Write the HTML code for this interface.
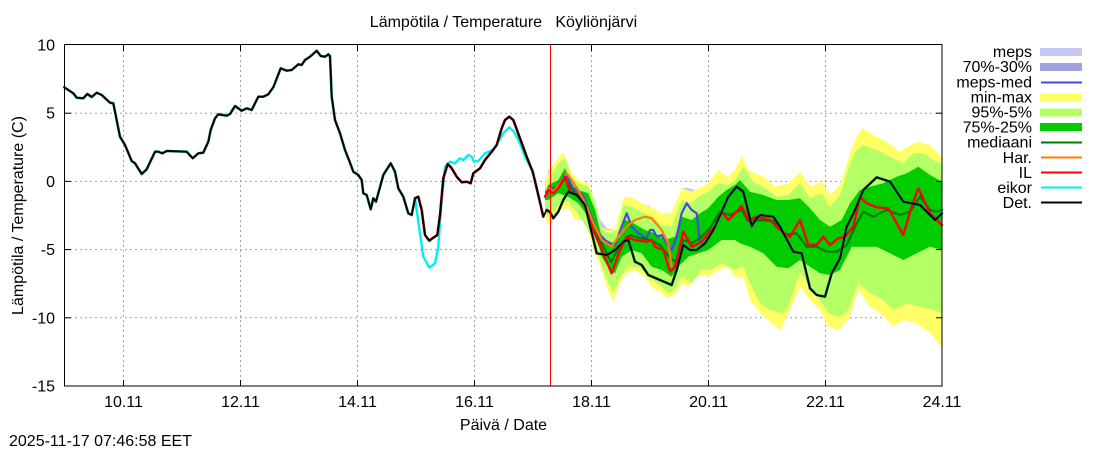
<!DOCTYPE html>
<html><head><meta charset="utf-8"><style>
html,body{margin:0;padding:0;background:#fff;}
svg{display:block;font-family:"Liberation Sans",Arial,sans-serif;}
text{font-size:16px;fill:#000;}
</style></head><body>
<svg width="1100" height="450" viewBox="0 0 1100 450" xmlns="http://www.w3.org/2000/svg">
<rect x="0" y="0" width="1100" height="450" fill="#fff"/>
<g stroke="#a0a0a0" stroke-width="1" stroke-dasharray="2,3" fill="none">
<line x1="65" y1="113.2" x2="942" y2="113.2"/>
<line x1="65" y1="181.4" x2="942" y2="181.4"/>
<line x1="65" y1="249.6" x2="942" y2="249.6"/>
<line x1="65" y1="317.8" x2="942" y2="317.8"/>
<line x1="123.5" y1="45" x2="123.5" y2="386"/>
<line x1="240.5" y1="45" x2="240.5" y2="386"/>
<line x1="357.5" y1="45" x2="357.5" y2="386"/>
<line x1="474.5" y1="45" x2="474.5" y2="386"/>
<line x1="591.5" y1="45" x2="591.5" y2="386"/>
<line x1="708.5" y1="45" x2="708.5" y2="386"/>
<line x1="825.5" y1="45" x2="825.5" y2="386"/>
</g>
<polygon fill="#c8c8f6" points="545,185 548.3,170 555,168 565,171.7 571.7,178.3 578.3,183.3 588.3,196.7 598.3,216.7 606.7,228.3 615,230 623.3,200 631.7,203.3 641.7,203.3 650,206 661.7,223.3 670,223.3 681.7,188.3 688.3,188 695,190 700,216.7 700,240 691.7,220 681.7,213.3 675,243.3 668.3,253.3 662,232 650,230 631.7,230 622,240 611.7,250 601.7,240 591.7,216.7 578.3,196.7 565,185 548.3,190 545,192"/>
<polygon fill="#a0a0dc" points="546.7,187 550,183.7 553.3,186.3 558,182 565,172 568,175 573.3,185.3 581.7,190.3 590,210.3 598.3,230.3 606.7,238.7 615,242 621.7,223.7 626.7,210.3 631.7,223.7 638.3,230.3 646.7,235.3 650,227 653.3,227 656.7,233.7 661.7,232 666.7,240.3 671.7,247 676.7,233.7 681.7,210.3 686.7,200.3 691.7,207 696.7,210.3 700,238.7 700,245 696.7,217 691.7,214 686.7,207 681.7,217 676.7,241 671.7,254 666.7,247 661.7,239 656.7,240.7 653.3,234 650,234 646.7,242 638.3,237 631.7,230.7 626.7,217 621.7,230.7 615,249 606.7,245.7 598.3,237.3 590,217.3 581.7,197.3 573.3,192.3 568,182 565,179 558,189 553.3,193.3 550,190.7 546.7,194"/>
<polygon fill="#ffff66" points="545,190 546.7,176.7 550,170 560,155 563.3,152.7 566.7,160 571.7,173.3 578.3,180 588.3,183.3 593.3,196.7 600,226.7 606.7,230 615,230 623.3,198.3 631.7,196.7 641.7,203.3 650,206.7 661.7,213.3 671.7,213.3 681.7,188.3 691.7,191.7 698.3,188.3 708.3,183.3 718.3,170 728.3,176.7 735,170 741.7,155 748.3,170 763.3,176.7 775,186.7 788.3,183.3 800,171.7 810,186.7 821.7,181.7 830,195 840,185 851.7,148.3 858.3,133.3 863.3,128.3 873.3,135 886.7,141.7 900,151.7 916.7,141.7 930,145 942,156.7 942,346.7 930,333.3 916.7,323.3 903.3,320 893.3,326.7 880,313.3 870,306.7 858.3,290 848.3,320 838.3,330 828.3,326.7 820,310 810,300 800,286.7 788.3,313.3 780,330 770,321.7 760,313.3 750,300 743.3,276.7 735,276.7 728.3,266.7 718.3,270 708.3,276.7 698.3,275 688.3,286.7 681.7,283.3 675,295 666.7,298.3 661.7,293.3 651.7,286.7 645,276.7 635,270 626.7,273.3 620,283.3 613.3,301.7 606.7,286.7 601.7,270 593.3,250 585,220 575,220 568.3,208 560,210 550,226 545,218"/>
<polygon fill="#b4ff66" points="545,195 548.3,180 558.3,163.3 565,158.3 571.7,176.7 578.3,183.3 588.3,186.7 595,201.7 601.7,230 610,233.3 618.3,230 623.3,205 631.7,206.7 641.7,211.7 650,215 661.7,225 671.7,226.7 681.7,200 691.7,203.3 698.3,196.7 708.3,191.7 718.3,183.3 728.3,185 735,180 743.3,166.7 753.3,181.7 763.3,186.7 776.7,196.7 788.3,195 800,183.3 810,198.3 821.7,193.3 830,206.7 840,195 850,163.3 856.7,150 863.3,145 876.7,150 890,156.7 903.3,163.3 913.3,153.3 923.3,153.3 933.3,160 942,163.3 942,313.3 933.3,310 920,306.7 906.7,303.3 893.3,310 883.3,300 870,293.3 858.3,283.3 848.3,310 840,316.7 828.3,313.3 820,300 810,286.7 800,271.7 788.3,306.7 783.3,313.3 770,310 760,303.3 750,283.3 743.3,266.7 735,270 721.7,263.3 711.7,270 701.7,270 691.7,283.3 681.7,276.7 675,290 668.3,293.3 661.7,286.7 648.3,276.7 638.3,266.7 628.3,266.7 620,276.7 613.3,293.3 608.3,283.3 601.7,266.7 595,243.3 588.3,230 578.3,215 568.3,201.7 560,203 550,218 545,212"/>
<polygon fill="#00cc00" points="545,195 548.3,185 558.3,180 565,168.3 571.7,185 578.3,190 588.3,193.3 595,210 601.7,236.7 611.7,243.3 620,236.7 625,220 633.3,223.3 645,230 655,233.3 665,240 675,236.7 681.7,216.7 691.7,220 700,213.3 708.3,208.3 718.3,196.7 726.7,190 735,185 740,180 750,191.7 763.3,195 776.7,200 788.3,200 800,198.3 810,208.3 820,220 830,226.7 841.7,220 850,203.3 860,190 870,186.7 883.3,183.3 896.7,176.7 906.7,173.3 918.3,166.7 930,175 942,181.7 942,250 930,246.7 916.7,253.3 903.3,260 890,253.3 876.7,246.7 863.3,246.7 851.7,246.7 840,270 830,275 820,273.3 810,266.7 800,260 788.3,268.3 776.7,266.7 763.3,253.3 750,246.7 740,243.3 735,240 721.7,240 708.3,250 698.3,253.3 688.3,256.7 678.3,266.7 671.7,276.7 661.7,270 651.7,266.7 641.7,253.3 631.7,250 621.7,256.7 615,273.3 610,270 601.7,256.7 595,230 588.3,216.7 578.3,203.3 568.3,196.7 558.3,193.3 548.3,200 545,200"/>
<g fill="none" stroke-linejoin="round" stroke-linecap="round">
<polyline stroke="#4848e0" stroke-width="2.2" points="546.7,190 550,186.7 553.3,189.3 558,185 565,175 568,178 573.3,188.3 581.7,193.3 590,213.3 598.3,233.3 606.7,241.7 615,245 621.7,226.7 626.7,213.3 631.7,226.7 638.3,233.3 646.7,238.3 650,230 653.3,230 656.7,236.7 661.7,235 666.7,243.3 671.7,250 676.7,236.7 681.7,213.3 686.7,203.3 691.7,210 696.7,213.3 700,241.7"/>
<polyline stroke="#007a00" stroke-width="2.2" points="546,192 553,190 560,185 565,178 572,190 580,196 590,215 600,240 611,262 620,245 630,235 640,238 650,240 660,245 670,258 676,262 683,240 692,243 700,238 710,228 720,212 730,215 741.7,210 748,221 760,220 773,221 785,235 796.7,233.3 806.7,246.7 816.7,246.7 826.7,251.7 836.7,251.7 846.7,245 856.7,223.3 863.3,211.7 873.3,216.7 886.7,210 900,215 910,211.7 920,196.7 930,210 936.7,211.7 942,210"/>
<polyline stroke="#ff8000" stroke-width="2.2" points="546.7,190 550,188 553.3,191.7 560,183.3 566.7,173.3 571.7,180 578.3,190 586.7,206.7 593.3,223.3 601.7,240 611.7,246.7 618.3,236.7 626.7,226.7 635,220 645,216.7 651.7,218.3 661.7,230 668.3,243.3 671.7,266.7"/>
<polyline stroke="#00f0f0" stroke-width="2.4" points="415,198.3 420,233.3 423.3,256.7 429.3,267.7 435,263.3 438.3,246.7 441.7,200 445,166.7 450,161.7 455,163.3 460,158.3 463.3,160 468.3,155 471.7,156.7 474,161.7 478.3,161 485,153.3 493.3,150 498.3,141.7 503.3,133.3 509.3,127.3 514,131.7 520,143.3 525,156.7 532.7,171.7 538.3,195 543.3,216.7"/>
<polyline stroke="#ff0000" stroke-width="2.4" points="545,196.7 548.3,190 553.3,193.3 558.3,188.3 565,176.7 570,191.7 578.3,195 585,206.7 593.3,230 601.7,250 611.7,273.3 620,250 626.7,236.7 635,240 646.7,241.7 651.7,240 655,246.7 663.3,250 670,271.7 675,266.7 683.3,231.7 691.7,246.7 701.7,241.7 708.3,233.3 715,226.7 721.7,211.7 728.3,220 735,213.3 741.7,206 748.3,220 756.7,216.7 770,220 780,230 790,236.7 800,220 808.3,245 816.7,245 823.3,236.7 830,245 838.3,238.3 845,236.7 853.3,226.7 860,196.7 866.7,203.3 876.7,207.3 888.3,208.3 903.3,235 911.7,206.7 918.3,188.3 930,213.3 942,225"/>
<polyline stroke="#a01010" stroke-width="2.6" points="415,198.3 418.3,196.7 421.7,210 425,235 429.3,240.7 433.3,237.7 437.3,235 440,215 443.3,178.3 447.7,164 451.7,168.3 456.7,176.7 461.7,182.3 466.7,181.7 470.7,183.3 473.3,173.3 480,168.3 485,160 491.7,151.7 496.7,145 501.7,128.3 505,120 509.3,116.7 513.3,120 520,138.3 526.7,156.7 532.7,171.7 538.3,195 543.3,216.7"/>
<polyline stroke="#127060" stroke-width="2.6" points="64.3,87.3 73.3,93.3 76.7,97.7 83.3,98.3 87.3,94 91.7,97 96.7,92.7 101.7,95 110,102.7 113.3,103.3 120,136.7 125,145 131.7,161 135,163.3 141.7,174 146.7,169.3 155,151.7 158.3,151.7 162.3,153.3 166.7,151 186.7,151.7 192.7,158.3 198.3,153.3 203.3,152.7 208.3,141.7 210.7,130 215,118.3 218.3,114.3 226.7,115.7 230,114 235,106 241.7,110.7 246.7,108.3 251.7,110 258.3,96.7 263.3,96.7 268.3,94.3 273.3,87.3 280.7,68.3 286.7,70.7 291.7,70 298.3,64.3 301.7,65 305,60 310,56.7 316.7,50.7 320.7,56 325,56.7 328.3,54.3 330,56 331.7,96.7 335,120 340,133.3 345,150 350,162.7 353.3,171.7 358.3,175 361.7,180 363.3,193.3 366.7,195 370.7,209.3 373.3,198.3 376,201.7 383.3,175 390.7,163.3 395,171.7 398.3,188.3 403.3,196.7 408.3,213.3 411.7,215 415,198.3"/>
<polyline stroke="#127060" stroke-width="2.6" points="546.7,210 550,212 553.3,218.3 558.3,211.7 563.3,200 568.3,191.7 576.7,195 585,205 596.7,253.3 606.7,255 615,250 623.3,241.7 628.3,240 635,261.7 641.7,265 648.3,275 660,280 671.7,285 676.7,270 683.3,245 690,250 696.7,250 705,243.3 713.3,230 721.7,211.7 728.3,196.7 736.7,186.7 743.3,191.7 751.7,226 756.7,218.3 760,215 773.3,216.7 780,226.7 793.3,251.7 801.7,253.3 810,288.3 816.7,295 825,296.7 831.7,273.3 840,258.3 846.7,226.7 855,210 863.3,190 876.7,177.3 890,181.7 903.3,201.7 911.7,203.3 920,205 935,220 942,213.3"/>
<polyline stroke="#000" stroke-width="1.7" points="64.3,87.3 73.3,93.3 76.7,97.7 83.3,98.3 87.3,94 91.7,97 96.7,92.7 101.7,95 110,102.7 113.3,103.3 120,136.7 125,145 131.7,161 135,163.3 141.7,174 146.7,169.3 155,151.7 158.3,151.7 162.3,153.3 166.7,151 186.7,151.7 192.7,158.3 198.3,153.3 203.3,152.7 208.3,141.7 210.7,130 215,118.3 218.3,114.3 226.7,115.7 230,114 235,106 241.7,110.7 246.7,108.3 251.7,110 258.3,96.7 263.3,96.7 268.3,94.3 273.3,87.3 280.7,68.3 286.7,70.7 291.7,70 298.3,64.3 301.7,65 305,60 310,56.7 316.7,50.7 320.7,56 325,56.7 328.3,54.3 330,56 331.7,96.7 335,120 340,133.3 345,150 350,162.7 353.3,171.7 358.3,175 361.7,180 363.3,193.3 366.7,195 370.7,209.3 373.3,198.3 376,201.7 383.3,175 390.7,163.3 395,171.7 398.3,188.3 403.3,196.7 408.3,213.3 411.7,215 415,198.3 418.3,196.7 421.7,210 425,235 429.3,240.7 433.3,237.7 437.3,235 440,215 443.3,178.3 447.7,164 451.7,168.3 456.7,176.7 461.7,182.3 466.7,181.7 470.7,183.3 473.3,173.3 480,168.3 485,160 491.7,151.7 496.7,145 501.7,128.3 505,120 509.3,116.7 513.3,120 520,138.3 526.7,156.7 532.7,171.7 538.3,195 543.3,216.7 546.7,210 550,212 553.3,218.3 558.3,211.7 563.3,200 568.3,191.7 576.7,195 585,205 596.7,253.3 606.7,255 615,250 623.3,241.7 628.3,240 635,261.7 641.7,265 648.3,275 660,280 671.7,285 676.7,270 683.3,245 690,250 696.7,250 705,243.3 713.3,230 721.7,211.7 728.3,196.7 736.7,186.7 743.3,191.7 751.7,226 756.7,218.3 760,215 773.3,216.7 780,226.7 793.3,251.7 801.7,253.3 810,288.3 816.7,295 825,296.7 831.7,273.3 840,258.3 846.7,226.7 855,210 863.3,190 876.7,177.3 890,181.7 903.3,201.7 911.7,203.3 920,205 935,220 942,213.3"/>
</g>
<line x1="550.5" y1="45" x2="550.5" y2="386" stroke="#ff0000" stroke-width="1"/>
<rect x="64.5" y="44.5" width="877.5" height="341.5" fill="none" stroke="#000" stroke-width="1"/>
<g stroke="#000" stroke-width="1">
<line x1="65" y1="113.2" x2="71" y2="113.2"/><line x1="65" y1="181.4" x2="71" y2="181.4"/><line x1="65" y1="249.6" x2="71" y2="249.6"/><line x1="65" y1="317.8" x2="71" y2="317.8"/>
<line x1="936" y1="113.2" x2="942" y2="113.2"/><line x1="936" y1="181.4" x2="942" y2="181.4"/><line x1="936" y1="249.6" x2="942" y2="249.6"/><line x1="936" y1="317.8" x2="942" y2="317.8"/>
<line x1="123.5" y1="386" x2="123.5" y2="380"/><line x1="240.5" y1="386" x2="240.5" y2="380"/><line x1="357.5" y1="386" x2="357.5" y2="380"/><line x1="474.5" y1="386" x2="474.5" y2="380"/><line x1="591.5" y1="386" x2="591.5" y2="380"/><line x1="708.5" y1="386" x2="708.5" y2="380"/><line x1="825.5" y1="386" x2="825.5" y2="380"/>
<line x1="123.5" y1="45" x2="123.5" y2="51"/><line x1="240.5" y1="45" x2="240.5" y2="51"/><line x1="357.5" y1="45" x2="357.5" y2="51"/><line x1="474.5" y1="45" x2="474.5" y2="51"/><line x1="591.5" y1="45" x2="591.5" y2="51"/><line x1="708.5" y1="45" x2="708.5" y2="51"/><line x1="825.5" y1="45" x2="825.5" y2="51"/>
</g>
<g text-anchor="end">
<text x="55" y="50.5">10</text>
<text x="55" y="118.7">5</text>
<text x="55" y="186.9">0</text>
<text x="55" y="255.1">-5</text>
<text x="55" y="323.3">-10</text>
<text x="55" y="391.5">-15</text>
</g>
<g text-anchor="middle">
<text x="123.5" y="407">10.11</text>
<text x="240.5" y="407">12.11</text>
<text x="357.5" y="407">14.11</text>
<text x="474.5" y="407">16.11</text>
<text x="591.5" y="407">18.11</text>
<text x="708.5" y="407">20.11</text>
<text x="825.5" y="407">22.11</text>
<text x="942" y="407">24.11</text>
<text x="503.5" y="430">Päivä / Date</text>
<text x="503.5" y="27" xml:space="preserve" style="white-space:pre">Lämpötila / Temperature   Köyliönjärvi</text>
</g>
<text x="18" y="215.5" text-anchor="middle" transform="rotate(-90 18 215.5)" dy="5">Lämpötila / Temperature (C)</text>
<text x="9" y="446">2025-11-17 07:46:58 EET</text>
<g text-anchor="end">
<text x="1032" y="57">meps</text>
<text x="1032" y="72.2">70%-30%</text>
<text x="1032" y="87.3">meps-med</text>
<text x="1032" y="102.4">min-max</text>
<text x="1032" y="117.5">95%-5%</text>
<text x="1032" y="132.6">75%-25%</text>
<text x="1032" y="147.7">mediaani</text>
<text x="1032" y="162.8">Har.</text>
<text x="1032" y="177.9">IL</text>
<text x="1032" y="193">eikor</text>
<text x="1032" y="208.1">Det.</text>
</g>
<rect x="1040" y="48" width="42" height="8" fill="#c8c8f6"/>
<rect x="1040" y="63" width="42" height="8" fill="#a0a0dc"/>
<line x1="1041" y1="82.5" x2="1082" y2="82.5" stroke="#4848e0" stroke-width="2"/>
<rect x="1040" y="93.5" width="42" height="8" fill="#ffff66"/>
<rect x="1040" y="108.5" width="42" height="8" fill="#b4ff66"/>
<rect x="1040" y="123" width="42" height="8" fill="#00cc00"/>
<line x1="1041" y1="142.5" x2="1082" y2="142.5" stroke="#007a00" stroke-width="2"/>
<line x1="1041" y1="157.5" x2="1082" y2="157.5" stroke="#ff8000" stroke-width="2"/>
<line x1="1041" y1="172.5" x2="1082" y2="172.5" stroke="#ff0000" stroke-width="2"/>
<line x1="1041" y1="187.5" x2="1082" y2="187.5" stroke="#00f0f0" stroke-width="2"/>
<line x1="1041" y1="202.5" x2="1082" y2="202.5" stroke="#000" stroke-width="2"/>
</svg>
</body></html>
